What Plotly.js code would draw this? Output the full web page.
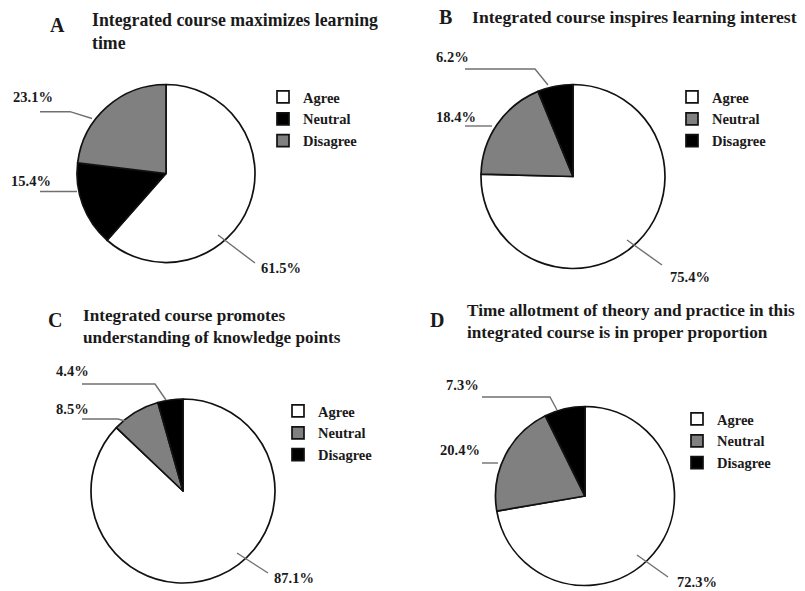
<!DOCTYPE html>
<html>
<head>
<meta charset="utf-8">
<script src="https://cdn.plot.ly/plotly-3.0.1.min.js"></script>
<style>html,body{margin:0;padding:0;background:#fff;}#chart{width:805px;height:591px;}</style>
</head>
<body>
<div id="chart"></div>
<script>
// ---- data ----
const responseLabels = ["Agree", "Neutral", "Disagree"];
const panelLetters = ["A", "B", "C", "D"];
const panelTitles = [
  "Integrated course maximizes learning<br>time",
  "Integrated course inspires learning interest",
  "Integrated course promotes<br>understanding of knowledge points",
  "Time allotment of theory and practice in this<br>integrated course is in proper proportion"
];
const valuesA = [61.5, 15.4, 23.1];
const valuesB = [75.4, 18.4, 6.2];
const valuesC = [87.1, 8.5, 4.4];
const valuesD = [72.3, 20.4, 7.3];
const allValues = [valuesA, valuesB, valuesC, valuesD];

// ---- styles / layout positions (pixels) ----
const W = 805, H = 591;
const WHITE = "#ffffff", BLACK = "#000000", GRAY = "#808080";
const panelColors = [
  [WHITE, BLACK, GRAY],
  [WHITE, GRAY, BLACK],
  [WHITE, GRAY, BLACK],
  [WHITE, GRAY, BLACK]
];
const FONT = "Liberation Serif";
const TXT = "#1a1a1a";
const titleSizes = [17.8, 17.7, 17.2, 17.2];
const pieGeom = [ // cx, cy, r
  [166, 173.5, 89],
  [573, 176.5, 92],
  [183, 491, 92],
  [585, 496, 89.5]
];
const letterPos = [[57, 25], [445, 17], [55, 320], [437, 320]];
const titlePos = [[90, 31], [470, 17], [81, 326], [465, 321]];
const legendPos = [[263, 81], [672, 81], [278, 395], [677, 403]];
// label centres [x,y] per slice (same order as labels)
const labelPos = [
  [[281, 268], [31, 181], [33, 97]],
  [[690, 277], [456, 117], [452, 57]],
  [[294, 578], [72, 409], [72, 371]],
  [[697, 582], [460, 450], [462, 385]]
];
const leaderPaths = [
  [[[218, 235], [255, 263]], [[40, 191.5], [77, 191.5]], [[40, 111.7], [70, 111.7], [92, 118.5]]],
  [[[627, 240], [662, 265]], [[465, 126], [492, 126]], [[465, 69], [535, 69], [548, 85]]],
  [[[237, 553], [268, 573]], [[82, 419], [118, 419], [125, 421]], [[82, 384], [155, 384], [166, 400]]],
  [[[637, 555], [668, 577]], [[482, 463], [498, 463]], [[482, 397], [550, 397], [557, 410]]]
];

const px = x => x / W;
const py = y => 1 - y / H;

// each panel gets its own legend; Plotly merges equal pie labels across traces,
// so invisible zero-width spaces keep the labels distinct per panel
const traces = allValues.map((vals, i) => {
  const [cx, cy, r] = pieGeom[i];
  return {
    type: "pie",
    labels: responseLabels.map(l => l + "\u200B".repeat(i)),
    values: vals,
    sort: false,
    direction: "clockwise",
    rotation: 0,
    textinfo: "none",
    hoverinfo: "label+percent",
    marker: { colors: panelColors[i], line: { color: "#111111", width: 1.7 } },
    domain: { x: [px(cx - r), px(cx + r)], y: [py(cy + r), py(cy - r)] },
    legend: i === 0 ? "legend" : "legend" + (i + 1),
    showlegend: true
  };
});

const annotations = [];
const shapes = [];
allValues.forEach((vals, i) => {
  annotations.push({
    xref: "paper", yref: "paper", x: px(letterPos[i][0]), y: py(letterPos[i][1]),
    xanchor: "center", yanchor: "middle", showarrow: false,
    text: "<b>" + panelLetters[i] + "</b>",
    font: { family: FONT, size: 20, color: TXT }
  });
  annotations.push({
    xref: "paper", yref: "paper", x: px(titlePos[i][0]), y: py(titlePos[i][1]),
    xanchor: "left", yanchor: "middle", align: "left", showarrow: false,
    text: "<b>" + panelTitles[i] + "</b>",
    font: { family: FONT, size: titleSizes[i], color: TXT }
  });
  vals.forEach((v, j) => {
    annotations.push({
      xref: "paper", yref: "paper", x: px(labelPos[i][j][0]), y: py(labelPos[i][j][1]),
      xanchor: "center", yanchor: "middle", showarrow: false,
      text: "<b>" + v.toFixed(1) + "%</b>",
      font: { family: FONT, size: 14.5, color: TXT }
    });
    const pts = leaderPaths[i][j];
    const d = pts.map((p, k) => (k === 0 ? "M" : "L") + px(p[0]) + "," + py(p[1])).join(" ");
    shapes.push({ type: "path", xref: "paper", yref: "paper", path: d, line: { color: "#707070", width: 1.4 } });
  });
});

const layout = {
  width: W, height: H,
  margin: { l: 0, r: 0, t: 0, b: 0 },
  paper_bgcolor: "#ffffff",
  annotations: annotations,
  shapes: shapes
};
legendPos.forEach((p, i) => {
  layout[i === 0 ? "legend" : "legend" + (i + 1)] = {
    x: px(p[0]), y: py(p[1]), xanchor: "left", yanchor: "top",
    bgcolor: "rgba(0,0,0,0)", tracegroupgap: 0, itemclick: false, itemdoubleclick: false,
    font: { family: FONT, size: 14.5, color: TXT, weight: "bold" }
  };
});

Plotly.newPlot("chart", traces, layout, { displayModeBar: false, staticPlot: true });
</script>
</body>
</html>
